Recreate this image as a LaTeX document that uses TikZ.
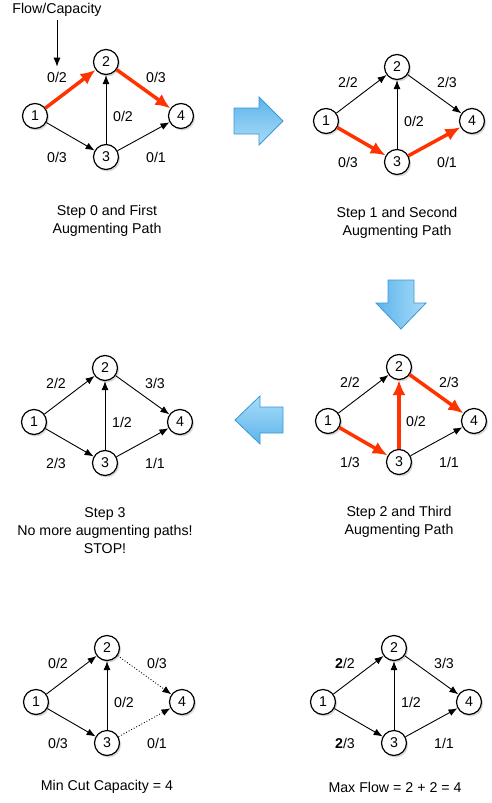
\documentclass[tikz,border=0pt]{standalone}
\usepackage{fontspec}
\setmainfont{Liberation Sans}
\usetikzlibrary{arrows.meta,shadows}
\definecolor{pathred}{HTML}{FF3300}
\definecolor{arrowblue}{HTML}{5DB4EC}
\definecolor{arrowlight}{HTML}{A8DCF8}
\definecolor{arrowborder}{HTML}{3A98D6}

\begin{document}
\begin{tikzpicture}[x=1pt,y=-1pt,>=Latex,font=\fontsize{14.2}{18}\selectfont]
\tikzstyle{vertex}=[circle,draw,line width=1.2pt,fill=white,minimum size=25pt,inner sep=0pt,drop shadow={shadow xshift=1.5pt,shadow yshift=-2pt,opacity=0.3}]
\tikzstyle{flow}=[line width=0.9pt,-{Latex[length=9pt,width=7pt]}]
\tikzstyle{aug}=[draw=pathred,line width=3.5pt,-{Latex[length=15pt,width=13pt]}]
\tikzstyle{cut}=[flow,dotted]
\tikzstyle{nwlab}=[midway,xshift=-13.5pt,yshift=12pt]
\tikzstyle{nelab}=[midway,xshift=12.5pt,yshift=12pt]
\tikzstyle{midlab}=[midway,xshift=17pt,yshift=-6.5pt]
\tikzstyle{swlab}=[midway,xshift=-13.5pt,yshift=-21pt]
\tikzstyle{selab}=[midway,xshift=12.5pt,yshift=-21pt]
\tikzstyle{bigarrow}=[draw=arrowborder,line width=0.8pt,line join=miter]
\tikzstyle{caption}=[align=center]
\useasboundingbox (0,0) rectangle (491,803);
% the six networks
\foreach \g/\x/\y in {a/106/62,b/397/67,c/105/368,d/399/367,e/107/648,f/394/648}{
  \node[vertex] (\g2) at (\x,\y) {2};
  \node[vertex] (\g1) at (\x-71,\y+54) {1};
  \node[vertex] (\g3) at (\x,\y+95) {3};
  \node[vertex] (\g4) at (\x+75,\y+54) {4};
}
% step 0
\node (legend) at (57,10) {Flow/Capacity};
\draw[aug] (a1) -- node[nwlab] (alab) {0/2} (a2);
\draw[aug] (a2) -- node[nelab] {0/3} (a4);
\draw[flow] (a3) -- node[midlab] {0/2} (a2);
\draw[flow] (a1) -- node[swlab] {0/3} (a3);
\draw[flow] (a3) -- node[selab] {0/1} (a4);
\draw[flow] (legend) -- (alab);
\node[caption] (capa) at (107,221) {Step 0 and First\\Augmenting Path};
% step 1
\draw[flow] (b1) -- node[nwlab] {2/2} (b2);
\draw[flow] (b2) -- node[nelab] {2/3} (b4);
\draw[flow] (b3) -- node[midlab] {0/2} (b2);
\draw[aug] (b1) -- node[swlab] {0/3} (b3);
\draw[aug] (b3) -- node[selab] {0/1} (b4);
\node[caption] (capb) at (397,223) {Step 1 and Second\\Augmenting Path};
% step 2
\draw[flow] (d1) -- node[nwlab] {2/2} (d2);
\draw[aug] (d2) -- node[nelab] {2/3} (d4);
\draw[aug] (d3) -- node[midlab] {0/2} (d2);
\draw[aug] (d1) -- node[swlab] {1/3} (d3);
\draw[flow] (d3) -- node[selab] {1/1} (d4);
\node[caption] (capd) at (399,522) {Step 2 and Third\\Augmenting Path};
% step 3
\draw[flow] (c1) -- node[nwlab] {2/2} (c2);
\draw[flow] (c2) -- node[nelab] {3/3} (c4);
\draw[flow] (c3) -- node[midlab] {1/2} (c2);
\draw[flow] (c1) -- node[swlab] {2/3} (c3);
\draw[flow] (c3) -- node[selab] {1/1} (c4);
\node[caption] (capc) at (105,531) {Step 3\\No more augmenting paths!\\STOP!};
% min cut
\draw[flow] (e1) -- node[nwlab] {0/2} (e2);
\draw[cut] (e2) -- node[nelab] {0/3} (e4);
\draw[flow] (e3) -- node[midlab] {0/2} (e2);
\draw[flow] (e1) -- node[swlab] {0/3} (e3);
\draw[cut] (e3) -- node[selab] {0/1} (e4);
\node[caption] (cape) at (107,787) {Min Cut Capacity = 4};
% max flow
\draw[flow] (f1) -- node[nwlab] {\textbf{2}/2} (f2);
\draw[flow] (f2) -- node[nelab] {3/3} (f4);
\draw[flow] (f3) -- node[midlab] {1/2} (f2);
\draw[flow] (f1) -- node[swlab] {\textbf{2}/3} (f3);
\draw[flow] (f3) -- node[selab] {1/1} (f4);
\node[caption] (capf) at (395,787) {Max Flow = 2 + 2 = 4};
% step arrows
\draw[bigarrow,top color=arrowblue,bottom color=arrowlight] (234,108) -- (259,108) -- (259,97) -- (283,121) -- (259,145) -- (259,134) -- (234,134) -- cycle;
\draw[bigarrow,left color=arrowblue,right color=arrowlight] (388,280) -- (414,280) -- (414,303) -- (426,303) -- (401,329) -- (376,303) -- (388,303) -- cycle;
\draw[bigarrow,top color=arrowlight,bottom color=arrowblue] (283,407) -- (260,407) -- (260,396) -- (235,420) -- (260,444) -- (260,433) -- (283,433) -- cycle;
\end{tikzpicture}
\end{document}
